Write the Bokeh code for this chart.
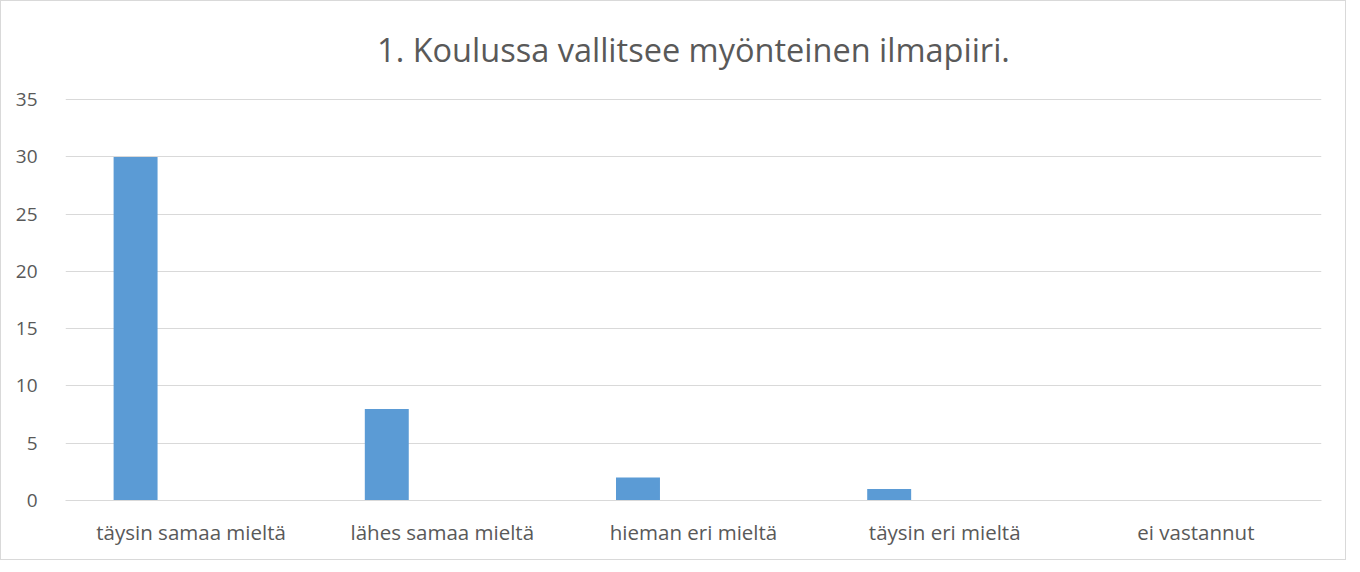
from bokeh.plotting import figure
from bokeh.models import FactorRange, Range1d, ColumnDataSource, FixedTicker, Label
from bokeh.transform import dodge
from bokeh.embed import file_html
from bokeh.resources import INLINE

categories = ["täysin samaa mieltä", "lähes samaa mieltä", "hieman eri mieltä", "täysin eri mieltä", "ei vastannut"]
values = [30, 8, 2, 1, 0]
y_ticks = [0, 5, 10, 15, 20, 25, 30, 35]
title_text = "1. Koulussa vallitsee myönteinen ilmapiiri."

FONT = "Open Sans"
GRAY = "#595959"

src = ColumnDataSource(dict(cat=categories, val=values))

# frame extends upward (white) so the title can sit inside it; grid/ticks limited to 0..35
p = figure(x_range=FactorRange(*categories), y_range=Range1d(0, 42.70),
           width=1346, height=560, output_backend="svg", toolbar_location=None,
           min_border_left=64, min_border_right=26, min_border_top=10, min_border_bottom=61)
p.styles = {"border": "1px solid #d9d9d9"}
p.outline_line_color = None
p.background_fill_color = "white"
p.border_fill_color = "white"

p.vbar(x=dodge("cat", -0.221, range=p.x_range), top="val", width=0.175, source=src,
       fill_color="#5b9bd5", line_color=None)

title = Label(x=2.5, y=39.39, text=title_text, text_align="center", text_baseline="middle",
              text_font=FONT, text_font_size="32.5px", text_color=GRAY)
p.add_layout(title)

p.yaxis.ticker = FixedTicker(ticks=y_ticks)
p.yaxis.axis_line_color = None
p.yaxis.major_tick_line_color = None
p.yaxis.minor_tick_line_color = None
p.yaxis.major_label_text_font = FONT
p.yaxis.major_label_text_font_size = "19px"
p.yaxis.major_label_text_color = GRAY
p.yaxis.major_label_standoff = 22

p.xaxis.axis_line_color = "#d9d9d9"
p.xaxis.major_tick_line_color = None
p.xaxis.minor_tick_line_color = None
p.xaxis.major_label_text_font = FONT
p.xaxis.major_label_text_font_size = "20.5px"
p.xaxis.major_label_text_color = GRAY
p.xaxis.major_label_standoff = 11

p.xgrid.grid_line_color = None
p.ygrid.grid_line_color = "#d9d9d9"
p.ygrid.grid_line_width = 1
p.x_range.range_padding = 0
p.x_range.factor_padding = 0

open("out.html", "w").write(file_html(p, INLINE))
